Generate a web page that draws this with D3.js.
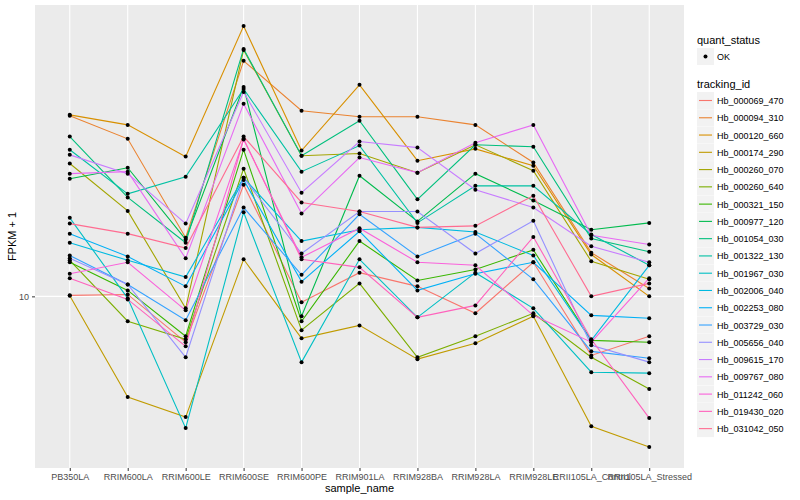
<!DOCTYPE html>
<html lang="en">
<head>
    <meta charset="UTF-8">
    <script src="https://d3js.org/d3.v7.min.js" charset="utf-8"></script>
    <title>FPKM</title>
    <style>
        body { margin: 0; background: #fff; }
        text { font-family: "Liberation Sans", Arial, sans-serif; }
    </style>
</head>
<body>
<div id="chart"></div>
<script>
    const samples = ["PB350LA", "RRIM600LA", "RRIM600LE", "RRIM600SE", "RRIM600PE", "RRIM901LA",
        "RRIM928BA", "RRIM928LA", "RRIM928LE", "RRII105LA_Control", "RRII105LA_Stressed"];

    const trackingIds = ["Hb_000069_470", "Hb_000094_310", "Hb_000120_660", "Hb_000174_290", "Hb_000260_070",
        "Hb_000260_640", "Hb_000321_150", "Hb_000977_120", "Hb_001054_030", "Hb_001322_130",
        "Hb_001967_030", "Hb_002006_040", "Hb_002253_080", "Hb_003729_030", "Hb_005656_040",
        "Hb_009615_170", "Hb_009767_080", "Hb_011242_060", "Hb_019430_020", "Hb_031042_050"];

    // FPKM + 1, one row per tracking id, one value per sample
    const fpkm = [
        [10.08, 10.15, 7.03, 23.6, 9.55, 12.0, 10.8, 8.78, 13.0, 6.35, 7.36],
        [40.1, 33.6, 15.7, 61.2, 41.7, 39.8, 39.8, 37.4, 28.0, 14.0, 10.63],
        [40.4, 37.4, 29.3, 80.0, 30.7, 50.9, 28.4, 31.1, 27.3, 13.8, 10.0],
        [10.05, 4.61, 3.95, 13.3, 7.24, 8.00, 6.17, 6.97, 8.58, 3.68, 3.14],
        [27.8, 19.3, 9.12, 66.6, 29.5, 30.0, 25.9, 32.1, 26.3, 13.1, 11.4],
        [13.2, 8.26, 7.19, 26.7, 7.71, 11.05, 6.26, 7.36, 8.78, 6.26, 4.90],
        [13.0, 10.47, 7.36, 30.9, 8.26, 15.3, 11.3, 12.3, 14.3, 7.13, 7.03],
        [24.7, 26.9, 15.5, 50.1, 8.58, 25.3, 17.8, 25.7, 20.9, 16.7, 17.6],
        [34.2, 21.4, 15.1, 67.1, 29.5, 38.6, 21.1, 32.1, 31.6, 15.6, 14.1],
        [30.9, 22.0, 25.1, 49.3, 26.1, 31.9, 17.6, 23.4, 23.4, 16.1, 12.7],
        [18.3, 9.85, 3.63, 19.1, 6.03, 13.3, 8.51, 12.0, 9.12, 5.58, 5.54],
        [15.1, 13.2, 11.6, 24.9, 15.3, 16.7, 17.0, 16.4, 13.7, 7.13, 12.7],
        [16.2, 13.6, 10.8, 24.5, 11.2, 16.5, 10.47, 11.9, 13.0, 8.64, 8.45],
        [13.7, 10.96, 8.32, 19.8, 11.8, 18.8, 13.6, 16.2, 11.4, 6.55, 6.21],
        [13.4, 10.96, 6.26, 24.9, 13.9, 19.2, 19.2, 13.9, 17.9, 6.87, 6.03],
        [29.7, 25.7, 17.5, 48.2, 22.2, 32.9, 31.4, 22.7, 19.8, 14.7, 13.0],
        [25.7, 26.1, 13.4, 44.0, 18.9, 29.1, 25.9, 32.6, 37.4, 16.0, 14.9],
        [11.9, 13.0, 8.98, 33.4, 13.5, 16.9, 13.0, 12.7, 8.64, 7.03, 11.5],
        [11.5, 9.77, 6.81, 33.6, 13.3, 12.5, 8.51, 9.33, 15.8, 7.19, 3.92],
        [17.5, 16.2, 14.5, 34.2, 20.6, 19.2, 17.0, 17.2, 21.7, 10.0, 11.05]
    ];

    const yTicks = [10];

    const colors = ["#F8766D", "#EA8331", "#D89000", "#C09B00", "#A3A500", "#7CAE00", "#39B600", "#00BB4E",
        "#00BF7D", "#00C1A3", "#00BFC4", "#00BAE0", "#00B0F6", "#35A2FF", "#9590FF", "#C77CFF",
        "#E76BF3", "#FA62DB", "#FF62BC", "#FF6C91"];

    const width = 800, height = 500;
    const panel = { left: 35, top: 5, right: 684, bottom: 468 };

    const svg = d3.select("#chart").append("svg")
        .attr("width", width)
        .attr("height", height);

    // discrete x, like ggplot: 0.6 units of padding on each side
    const x = d3.scalePoint()
        .domain(samples)
        .range([panel.left, panel.right])
        .padding(0.6);

    // log y with 5% expansion
    const all = fpkm.flat();
    const lo = Math.log10(d3.min(all)), hi = Math.log10(d3.max(all));
    const pad = (hi - lo) * 0.05;
    const y = d3.scaleLog()
        .domain([Math.pow(10, lo - pad), Math.pow(10, hi + pad)])
        .range([panel.bottom, panel.top]);

    const color = d3.scaleOrdinal().domain(trackingIds).range(colors);

    svg.append("rect")
        .attr("x", panel.left).attr("y", panel.top)
        .attr("width", panel.right - panel.left).attr("height", panel.bottom - panel.top)
        .attr("fill", "#EBEBEB");

    // grid
    svg.append("g").selectAll("line")
        .data(yTicks).join("line")
        .attr("x1", panel.left).attr("x2", panel.right)
        .attr("y1", d => y(d)).attr("y2", d => y(d))
        .attr("stroke", "#fff").attr("stroke-width", 1.1);
    svg.append("g").selectAll("line")
        .data(samples).join("line")
        .attr("x1", d => x(d)).attr("x2", d => x(d))
        .attr("y1", panel.top).attr("y2", panel.bottom)
        .attr("stroke", "#fff").attr("stroke-width", 1.1);

    // lines
    const line = d3.line()
        .x((d, i) => x(samples[i]))
        .y(d => y(d));
    svg.append("g").selectAll("path")
        .data(fpkm).join("path")
        .attr("d", line)
        .attr("fill", "none")
        .attr("stroke", (d, i) => color(trackingIds[i]))
        .attr("stroke-width", 1.1);

    // points
    const pts = [];
    fpkm.forEach(row => row.forEach((v, i) => pts.push({ s: samples[i], v: v })));
    svg.append("g").selectAll("circle")
        .data(pts).join("circle")
        .attr("cx", d => x(d.s)).attr("cy", d => y(d.v))
        .attr("r", 2)
        .attr("fill", "#000");

    // axes
    const yAxis = svg.append("g")
        .attr("transform", `translate(${panel.left},0)`)
        .call(d3.axisLeft(y).tickValues(yTicks).tickFormat(d3.format("d")).tickSize(3).tickPadding(3));
    yAxis.select(".domain").remove();
    yAxis.selectAll("line").attr("stroke", "#333");
    yAxis.selectAll("text").attr("fill", "#4D4D4D").style("font-size", "9px");

    const xAxis = svg.append("g")
        .attr("transform", `translate(0,${panel.bottom})`)
        .call(d3.axisBottom(x).tickSize(3).tickPadding(3));
    xAxis.select(".domain").remove();
    xAxis.selectAll("line").attr("stroke", "#333");
    xAxis.selectAll("text").attr("fill", "#4D4D4D").style("font-size", "9px");

    svg.append("text")
        .attr("x", (panel.left + panel.right) / 2).attr("y", 492)
        .attr("text-anchor", "middle")
        .style("font-size", "11px")
        .text("sample_name");

    svg.append("text")
        .attr("transform", `translate(16,${(panel.top + panel.bottom) / 2}) rotate(-90)`)
        .attr("text-anchor", "middle")
        .style("font-size", "11px")
        .text("FPKM + 1");

    // legends
    const lg = svg.append("g").attr("transform", "translate(697,0)");
    lg.append("text").attr("x", 0).attr("y", 44).style("font-size", "11px").text("quant_status");
    lg.append("rect").attr("x", 0).attr("y", 48).attr("width", 17).attr("height", 17).attr("fill", "#F2F2F2");
    lg.append("circle").attr("cx", 8.5).attr("cy", 56.5).attr("r", 2).attr("fill", "#000");
    lg.append("text").attr("x", 20).attr("y", 60).style("font-size", "9px").text("OK");

    lg.append("text").attr("x", 0).attr("y", 88).style("font-size", "11px").text("tracking_id");
    const step = 17.27;
    const keys = lg.selectAll("g.key")
        .data(trackingIds).join("g")
        .attr("class", "key")
        .attr("transform", (d, i) => `translate(0,${92 + i * step})`);
    keys.append("rect").attr("width", 17).attr("height", 17).attr("fill", "#F2F2F2");
    keys.append("line")
        .attr("x1", 2).attr("x2", 15).attr("y1", 8.5).attr("y2", 8.5)
        .attr("stroke", d => color(d)).attr("stroke-width", 1.1);
    keys.append("text")
        .attr("x", 20).attr("y", 12)
        .style("font-size", "9px")
        .text(d => d);
</script>
</body>
</html>
